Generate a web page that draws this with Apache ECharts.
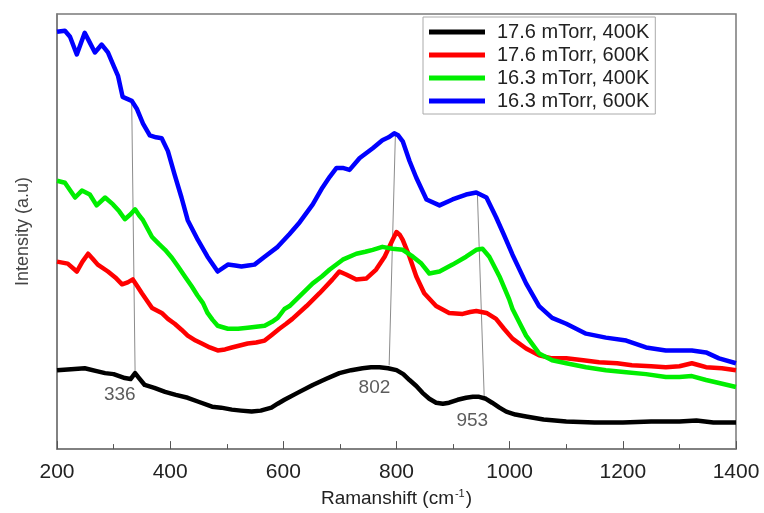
<!DOCTYPE html>
<html>
<head>
<meta charset="utf-8">
<script src="https://cdn.jsdelivr.net/npm/echarts@6/dist/echarts.min.js"></script>
<style>html,body{margin:0;padding:0;background:#fff}#c{width:764px;height:513px}</style>
</head>
<body>
<div id="c"></div>
<script>
// Raman shift (cm-1) and intensity (arbitrary units) pairs
const seriesNames = ['17.6 mTorr, 400K', '17.6 mTorr, 600K', '16.3 mTorr, 400K', '16.3 mTorr, 600K'];
const seriesColors = ['#000000', '#ff0000', '#00ee00', '#0000ff'];

const black400 = [[200,82],[225,83],[249,84],[270,81],[285,79],[300,78],[320,74],[330,73],[338,79],[345,74],[355,67],[372,64],[391,60],[410,57],[431,54],[450,50],[474,45],[490,44],[509,42],[525,41],[544,40],[560,41],[579,44],[590,48],[602,52],[625,59],[652,67],[675,73],[699,79],[720,82],[740,84],[755,85],[770,85],[785,84],[800,82],[812,78],[823,72],[835,66],[846,59],[858,53],[870,49],[882,48],[893,49],[908,52],[923,54],[935,55],[946,55],[958,53],[969,49],[982,44],[994,40],[1010,37],[1029,35],[1060,32],[1100,30],[1150,29],[1200,29],[1250,30],[1300,30],[1330,31],[1360,29],[1400,29]];

const red600 = [[200,192],[219,190],[235,182],[245,192],[255,200],[263,195],[272,189],[290,182],[303,176],[315,169],[325,171],[334,174],[342,167],[350,160],[368,145],[385,140],[396,134],[408,129],[420,123],[431,117],[445,112],[456,109],[470,105],[484,102],[497,103],[509,105],[523,107],[537,109],[552,110],[567,112],[580,118],[593,124],[605,129],[616,134],[641,147],[664,160],[687,174],[699,182],[711,179],[729,174],[747,175],[764,184],[779,197],[793,214],[800,222],[806,219],[811,214],[823,197],[835,177],[849,160],[870,147],[893,140],[917,139],[930,141],[941,142],[950,141],[959,140],[976,134],[990,124],[1005,114],[1029,104],[1052,97],[1075,94],[1100,94],[1130,92],[1158,90],[1190,89],[1216,87],[1250,86],[1276,85],[1300,86],[1322,89],[1335,87],[1347,85],[1375,84],[1400,82]];

const green400 = [[200,274],[214,272],[232,257],[244,264],[258,260],[270,249],[285,257],[299,250],[310,243],[320,235],[330,240],[338,245],[345,239],[352,234],[368,217],[380,210],[391,204],[403,196],[414,187],[426,177],[438,167],[448,158],[458,150],[466,140],[475,133],[484,127],[502,124],[520,124],[537,125],[552,126],[567,127],[580,131],[590,135],[602,144],[611,147],[629,157],[652,170],[668,177],[682,184],[705,194],[729,200],[745,202],[758,204],[775,207],[793,205],[811,204],[829,197],[844,190],[858,180],[876,182],[899,189],[923,197],[941,204],[952,205],[964,197],[982,177],[999,154],[1005,144],[1029,117],[1052,99],[1075,92],[1100,89],[1135,85],[1170,82],[1206,80],[1241,78],[1276,75],[1300,75],[1322,76],[1347,72],[1370,69],[1400,65]];

const blue600 = [[200,425],[214,426],[223,420],[235,402],[249,424],[258,414],[267,404],[279,412],[290,404],[299,392],[308,380],[316,359],[324,357],[332,355],[341,347],[352,332],[364,320],[375,318],[385,317],[396,304],[408,280],[420,257],[431,234],[449,214],[466,197],[484,182],[502,189],[515,188],[526,187],[538,188],[549,189],[567,197],[590,207],[611,220],[629,232],[652,250],[669,267],[682,278],[694,287],[705,287],[717,285],[735,297],[758,307],[775,315],[786,318],[796,322],[803,320],[811,314],[823,294],[835,277],[853,255],[876,249],[899,255],[923,260],[941,262],[959,257],[976,237],[990,219],[1005,199],[1029,170],[1052,147],[1075,135],[1100,129],[1135,119],[1170,115],[1206,112],[1241,105],[1276,102],[1300,102],[1322,102],[1347,100],[1370,94],[1400,89]];

const seriesData = [black400, red600, green400, blue600];

// peak guide lines (top point, bottom point) and peak labels
const guideLines = [
  [[332,355],[338,81]],
  [[798,320],[787,87]],
  [[943,260],[955,55]]
];
const peakLabels = [[311,57,'336'],[761,64,'802'],[934,31,'953']];

const xTicks = [200, 400, 600, 800, 1000, 1200, 1400];

const chart = echarts.init(document.getElementById('c'), null, {renderer:'canvas'});
const font = 'Liberation Sans, Arial, sans-serif';

const series = seriesData.map((d, i) => ({
  name: seriesNames[i],
  type: 'line',
  data: d,
  showSymbol: false,
  symbol: 'none',
  smooth: false,
  z: 3 + i,
  lineStyle: {color: seriesColors[i], width: 4.5, join: 'round'},
  itemStyle: {color: seriesColors[i]}
}));

guideLines.forEach(g => series.push({
  type: 'line', data: g, symbol: 'none', silent: true, z: 1,
  lineStyle: {color: '#8c8c8c', width: 1}
}));

series.push({
  type: 'scatter', data: peakLabels, symbolSize: 0, silent: true, z: 10,
  label: {show: true, position: 'inside', formatter: p => p.value[2],
          fontSize: 19, color: '#333', fontFamily: font}
});

chart.setOption({
  backgroundColor: '#fff',
  animation: false,
  grid: {left: 57, right: 28, top: 14, bottom: 58, show: true, borderColor: '#7a7a7a', borderWidth: 1.5},
  legend: {
    data: seriesNames.map(n => ({name: n, icon: 'rect'})),
    orient: 'vertical',
    left: 423, top: 17,
    itemWidth: 56, itemHeight: 5, itemGap: 3,
    padding: [5, 6, 3, 6],
    borderColor: '#aaa', borderWidth: 1,
    backgroundColor: '#fff',
    textStyle: {fontSize: 20, color: '#222', fontFamily: font, padding: [0, 0, 0, 7]}
  },
  xAxis: {
    type: 'value', min: 200, max: 1400, interval: 200,
    name: '{a|Ramanshift (cm}{s|-1}{a|)}',
    nameLocation: 'middle', nameGap: 33,
    nameTextStyle: {rich: {
      a: {fontSize: 19, color: '#222', fontFamily: font},
      s: {fontSize: 11, color: '#222', fontFamily: font, verticalAlign: 'top', padding: [0, 1, 10, 1]}
    }},
    axisLine: {lineStyle: {color: '#7a7a7a', width: 1.5}},
    axisTick: {inside: true, length: 8, lineStyle: {color: '#555'}},
    minorTick: {show: true, splitNumber: 2, length: 5, lineStyle: {color: '#555'}},
    axisLabel: {fontSize: 21, color: '#222', fontFamily: font, margin: 13,
                formatter: v => String(v)},
    splitLine: {show: false}
  },
  yAxis: {
    type: 'value', min: 2, max: 443,
    name: 'Intensity (a.u)', nameLocation: 'middle', nameGap: 25,
    nameTextStyle: {fontSize: 18, color: '#444', fontFamily: font},
    axisLine: {show: true, lineStyle: {color: '#7a7a7a', width: 1.5}},
    axisTick: {show: false}, axisLabel: {show: false}, splitLine: {show: false}
  },
  series: series
});
</script>
</body>
</html>
